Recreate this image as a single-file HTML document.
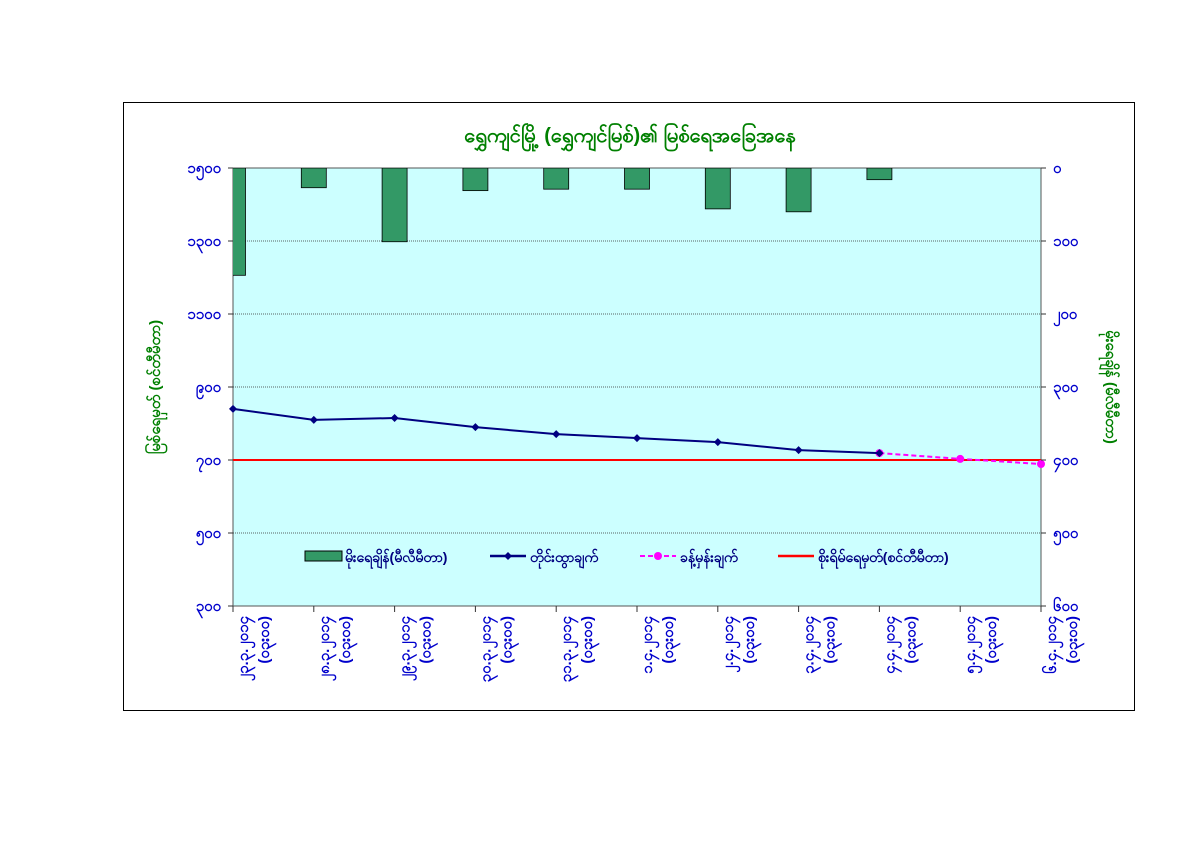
<!DOCTYPE html>
<html><head><meta charset="utf-8"><style>
body{margin:0;background:#fff;width:1200px;height:849px;overflow:hidden}
text{font-family:"Liberation Sans","Noto Sans CJK SC",sans-serif}
</style></head><body>
<svg width="1200" height="849">
<rect x="123.5" y="102.5" width="1011" height="608" fill="#fff" stroke="#000" stroke-width="1"/>
<text x="630" y="142" font-size="20" font-weight="bold" fill="#008000" text-anchor="middle">ရွှေကျင်မြို့ (ရွှေကျင်မြစ်)၏ မြစ်ရေအခြေအနေ</text>
<rect x="233" y="168" width="808" height="438" fill="#ccffff" stroke="#555" stroke-width="1"/>
<g id="grid"></g><g id="bars"></g><g id="lines"></g><g id="axes"></g>
<text transform="translate(160,387) rotate(-90)" font-size="15" font-weight="bold" fill="#008000" text-anchor="middle">မြစ်ရေမှတ် (စင်တီမီတာ)</text>
<text transform="translate(1106,387) rotate(90)" font-size="15" font-weight="bold" fill="#008000" text-anchor="middle">မိုးရေချိန် (မီလီမီတာ)</text>
<g>
<rect x="305" y="551" width="37" height="10" fill="#339966" stroke="#000"/>
<text x="345" y="562" font-size="14" font-weight="bold" fill="#000080">မိုးရေချိန်(မီလီမီတာ)</text>
<line x1="490" y1="556" x2="526" y2="556" stroke="#000080" stroke-width="2.5"/>
<path d="M508 552 L512 556 L508 560 L504 556Z" fill="#000080"/>
<text x="530" y="562" font-size="14" font-weight="bold" fill="#000080">တိုင်းထွာချက်</text>
<line x1="640" y1="556" x2="676" y2="556" stroke="#ff00ff" stroke-width="2" stroke-dasharray="5,3"/>
<circle cx="658" cy="556" r="4" fill="#ff00ff"/>
<text x="680" y="562" font-size="14" font-weight="bold" fill="#000080">ခန့်မှန်းချက်</text>
<line x1="778" y1="556" x2="814" y2="556" stroke="#ff0000" stroke-width="2.5"/>
<text x="818" y="562" font-size="14" font-weight="bold" fill="#000080">စိုးရိမ်ရေမှတ်(စင်တီမီတာ)</text>
</g>
</svg>
<script>
const categories=["၂၃.၃.၂၀၁၄","၂၈.၃.၂၀၁၄","၂၉.၃.၂၀၁၄","၃၀.၃.၂၀၁၄","၃၁.၃.၂၀၁၄","၁.၄.၂၀၁၄","၂.၄.၂၀၁၄","၃.၄.၂၀၁၄","၄.၄.၂၀၁၄","၅.၄.၂၀၁၄","၆.၄.၂၀၁၄"];
const rainfall=[147,27,101,31,29,29,56,60,16,null,null];
const waterLevel=[840,810,815,790,771,760,749,727,719,null,null];
const forecast=[null,null,null,null,null,null,null,null,719,703,689];
const dangerLevel=700;
const leftTicks=["၃၀၀","၅၀၀","၇၀၀","၉၀၀","၁၁၀၀","၁၃၀၀","၁၅၀၀"];
const leftTickValues=[300,500,700,900,1100,1300,1500];
const rightTicks=["၀","၁၀၀","၂၀၀","၃၀၀","၄၀၀","၅၀၀","၆၀၀"];
const rightTickValues=[0,100,200,300,400,500,600];
const X0=233,X1=1041,Y0=168,Y1=606;
const xs=i=>X0+i*(X1-X0)/(categories.length-1);
const yL=v=>Y1-(v-300)/1200*(Y1-Y0);
const yR=v=>Y0+v/600*(Y1-Y0);
const NS="http://www.w3.org/2000/svg";
function mk(t,a,p){const e=document.createElementNS(NS,t);for(const k in a)e.setAttribute(k,a[k]);p.appendChild(e);return e;}
const grid=document.getElementById('grid'),bars=document.getElementById('bars'),lines=document.getElementById('lines'),axes=document.getElementById('axes');
leftTickValues.forEach((v,i)=>{const y=yL(v);
 if(i>0&&i<leftTickValues.length-1){const g=mk('line',{x1:X0,x2:X1,y1:y,y2:y,stroke:'#333','stroke-width':0.8,'stroke-dasharray':'1,1'},grid);
 
 }
 mk('line',{x1:X0-5,x2:X0,y1:y,y2:y,stroke:'#333'},axes);
 const t=mk('text',{x:X0-12,y:y+5,'font-size':15,'font-weight':'bold',fill:'#0000cc','text-anchor':'end'},axes);t.textContent=leftTicks[i];
 
 
});
rightTickValues.forEach((v,i)=>{const y=yR(v);
 mk('line',{x1:X1,x2:X1+5,y1:y,y2:y,stroke:'#333'},axes);
 const t=mk('text',{x:X1+12,y:y+5,'font-size':15,'font-weight':'bold',fill:'#0000cc'},axes);t.textContent=rightTicks[i];
 
 
});
const cp=mk('clipPath',{id:'cp'},bars);mk('rect',{x:X0,y:Y0,width:X1-X0,height:Y1-Y0},cp);
categories.forEach((c,i)=>{const x=xs(i);
 mk('line',{x1:x,x2:x,y1:Y1,y2:Y1+6,stroke:'#333'},axes);
 const t=mk('text',{transform:`translate(${x+3},${Y1+10}) rotate(-90)`,'font-size':15,'font-weight':'bold',fill:'#0000cc','text-anchor':'end'},axes);
 
 
 const a=mk('tspan',{x:0,dy:12},t);a.textContent=c;
 const b=mk('tspan',{x:0,dy:21},t);b.textContent="(၀၃း၀၀)";
 if(rainfall[i]!=null){const r=mk('rect',{x:x-12.5,y:Y0,width:25,height:yR(rainfall[i])-Y0,fill:'#339966',stroke:'#000','stroke-width':0.8,'clip-path':'url(#cp)'},bars);
 
 }
});
const dl=mk('line',{x1:X0,x2:X1,y1:yL(dangerLevel),y2:yL(dangerLevel),stroke:'#ff0000','stroke-width':2},lines);


function series(arr,col,dash,name,marker){const pts=[];arr.forEach((v,i)=>{if(v!=null)pts.push([xs(i),yL(v)]);});
 const p=mk('polyline',{points:pts.map(p=>p.join(',')).join(' '),fill:'none',stroke:col,'stroke-width':2,'stroke-dasharray':dash},lines);
 
 
 pts.forEach(([x,y])=>{let m;if(marker==='d')m=mk('path',{d:`M${x} ${y-4}L${x+4} ${y}L${x} ${y+4}L${x-4} ${y}Z`,fill:col},lines);else m=mk('circle',{cx:x,cy:y,r:4,fill:col},lines);
 
 });}
series(forecast,'#ff00ff','5,3','forecast-line','c');
series(waterLevel,'#000080','none','water-level-line','d');
</script>
</body></html>
